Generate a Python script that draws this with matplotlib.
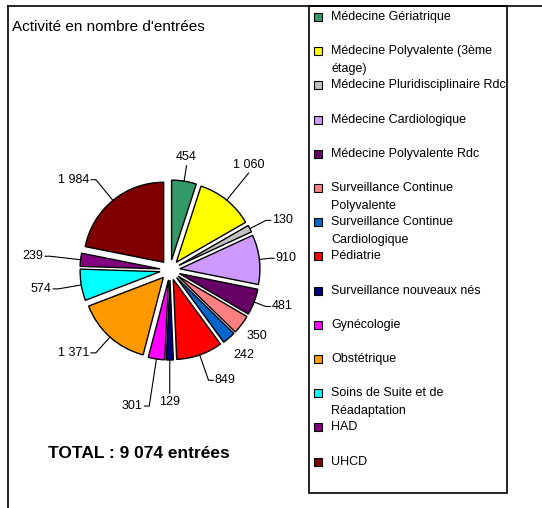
import numpy as np
import matplotlib
matplotlib.use("Agg")
import matplotlib.pyplot as plt
from matplotlib.patches import Rectangle
from matplotlib.lines import Line2D

plt.rcParams['font.family'] = ['Liberation Sans', 'DejaVu Sans']

# data
services = ["Médecine Gériatrique", "Médecine Polyvalente (3ème\nétage)",
            "Médecine Pluridisciplinaire Rdc", "Médecine Cardiologique",
            "Médecine Polyvalente Rdc", "Surveillance Continue\nPolyvalente",
            "Surveillance Continue\nCardiologique", "Pédiatrie",
            "Surveillance nouveaux nés", "Gynécologie", "Obstétrique",
            "Soins de Suite et de\nRéadaptation", "HAD", "UHCD"]
entrees = [454, 1060, 130, 910, 481, 350, 242, 849, 129, 301, 1371, 574, 239, 1984]
colors = ["#339966", "#FFFF00", "#C0C0C0", "#CC99FF", "#660066", "#FF8080",
          "#0066CC", "#FF0000", "#000080", "#FF00FF", "#FF9900", "#00FFFF",
          "#800080", "#800000"]
total = sum(entrees)

# leader elbow distance from pie centre (in pie radii) and where the label sits
label_dist = [1.32, 1.56, 1.35, 1.25, 1.28, 1.36, 1.41, 1.46, 1.54, 1.72, 1.39, 1.42, 1.51, 1.46]
label_side = ['top', 'top', 'right', 'right', 'right', None, None, 'right',
              'bottom', 'left', 'left', 'left', 'left', 'left']


def fmt(v):
    return f"{v:,}".replace(",", " ")


fig = plt.figure(figsize=(5.42, 5.08), dpi=100)
W, H = 542, 508


def fx(px):
    return px / W


def fy(py):
    return 1 - py / H


# outer frame lines
fig.add_artist(Line2D([fx(8), fx(8)], [fy(6), 0], color='black', lw=1.2))
fig.add_artist(Line2D([fx(8), 1], [fy(6), fy(6)], color='black', lw=1.2))

# pie (radius 80 px, limits +-1.8)
R = 80
ax = fig.add_axes([fx(170 - 1.8 * R), fy(270 + 1.8 * R), fx(3.6 * R), 3.6 * R / H])
ax.set_aspect('equal')
wedges, _ = ax.pie(entrees, colors=colors, startangle=90, counterclock=False,
                   explode=[0.125] * len(entrees),
                   wedgeprops=dict(edgecolor='black', linewidth=1))
ax.set_xlim(-1.8, 1.8)
ax.set_ylim(-1.8, 1.8)
ax.axis('off')

stub = 0.06
for i, (w, v) in enumerate(zip(wedges, entrees)):
    ang = np.deg2rad((w.theta1 + w.theta2) / 2)
    c, s = np.cos(ang), np.sin(ang)
    cx, cy = w.center
    x0, y0 = cx + 1.0 * c, cy + 1.0 * s
    d = label_dist[i]
    px, py = d * c, d * s
    side = label_side[i]
    if side is None:
        ax.text(px, py, fmt(v), ha='center', va='center', fontsize=9)
    elif side == 'top':
        ax.plot([x0, px], [y0, py], color='black', lw=0.8)
        ax.text(px, py + 0.03, fmt(v), ha='center', va='bottom', fontsize=9)
    elif side == 'bottom':
        ax.plot([x0, px], [y0, py], color='black', lw=0.8)
        ax.text(px, py - 0.03, fmt(v), ha='center', va='top', fontsize=9)
    else:
        sgn = 1 if side == 'right' else -1
        ax.plot([x0, px, px + sgn * stub], [y0, py, py], color='black', lw=0.8)
        ax.text(px + sgn * (stub + 0.02), py, fmt(v),
                ha='left' if sgn > 0 else 'right', va='center', fontsize=9)

# titles
fig.text(fx(12), fy(27), "Activité en nombre d'entrées", fontsize=11, va='center', ha='left')
fig.text(fx(48), fy(453), f"TOTAL : {fmt(total)} entrées", fontsize=12.5,
         fontweight='bold', va='center', ha='left')

# legend box
fig.add_artist(Rectangle((fx(309), fy(493)), fx(507 - 309), (493 - 6) / H,
                         fill=False, edgecolor='black', lw=1.2))
for i, (lab, col) in enumerate(zip(services, colors)):
    y = 17 + i * 34.2
    fig.add_artist(Rectangle((fx(314), fy(y + 4)), fx(8), 8 / H,
                             facecolor=col, edgecolor='black', lw=0.8))
    for j, line in enumerate(lab.split("\n")):
        fig.text(fx(331), fy(y + j * 18), line, fontsize=9, va='center', ha='left')

fig.savefig("out.png", dpi=100)
